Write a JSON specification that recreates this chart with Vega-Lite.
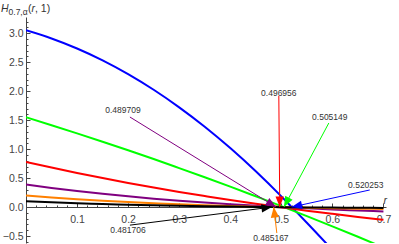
{
  "$schema": "https://vega.github.io/schema/vega-lite/v6.json",
  "width": 360,
  "height": 226,
  "autosize": "none",
  "padding": {"left": 26, "top": 17, "right": 13, "bottom": 1},
  "background": "white",
  "config": {"view": {"stroke": null}, "font": "Liberation Sans"},
  "datasets": {
    "curves": [
      {"s":"0.520253","x":0,"y":3.05},{"s":"0.520253","x":0.05,"y":2.91},{"s":"0.520253","x":0.1,"y":2.737},{"s":"0.520253","x":0.15,"y":2.532},{"s":"0.520253","x":0.2,"y":2.294},{"s":"0.520253","x":0.25,"y":2.024},{"s":"0.520253","x":0.3,"y":1.721},{"s":"0.520253","x":0.35,"y":1.386},{"s":"0.520253","x":0.4,"y":1.018},{"s":"0.520253","x":0.45,"y":0.618},{"s":"0.520253","x":0.5,"y":0.185},{"s":"0.520253","x":0.520253,"y":0},{"s":"0.520253","x":0.55,"y":-0.27},{"s":"0.520253","x":0.6,"y":-0.74},
      {"s":"0.505149","x":0,"y":1.55},{"s":"0.505149","x":0.05,"y":1.413},{"s":"0.505149","x":0.1,"y":1.272},{"s":"0.505149","x":0.15,"y":1.128},{"s":"0.505149","x":0.2,"y":0.98},{"s":"0.505149","x":0.25,"y":0.829},{"s":"0.505149","x":0.3,"y":0.673},{"s":"0.505149","x":0.35,"y":0.515},{"s":"0.505149","x":0.4,"y":0.353},{"s":"0.505149","x":0.45,"y":0.186},{"s":"0.505149","x":0.505149,"y":0},{"s":"0.505149","x":0.55,"y":-0.156},{"s":"0.505149","x":0.6,"y":-0.333},{"s":"0.505149","x":0.65,"y":-0.513},{"s":"0.505149","x":0.7,"y":-0.697},
      {"s":"0.496956","x":0,"y":0.78},{"s":"0.496956","x":0.05,"y":0.682},{"s":"0.496956","x":0.1,"y":0.589},{"s":"0.496956","x":0.15,"y":0.5},{"s":"0.496956","x":0.2,"y":0.416},{"s":"0.496956","x":0.25,"y":0.337},{"s":"0.496956","x":0.3,"y":0.261},{"s":"0.496956","x":0.35,"y":0.19},{"s":"0.496956","x":0.4,"y":0.121},{"s":"0.496956","x":0.45,"y":0.057},{"s":"0.496956","x":0.496956,"y":0},{"s":"0.496956","x":0.55,"y":-0.062},{"s":"0.496956","x":0.6,"y":-0.117},{"s":"0.496956","x":0.65,"y":-0.17},{"s":"0.496956","x":0.7,"y":-0.219},
      {"s":"0.489709","x":0,"y":0.39},{"s":"0.489709","x":0.05,"y":0.331},{"s":"0.489709","x":0.1,"y":0.277},{"s":"0.489709","x":0.15,"y":0.229},{"s":"0.489709","x":0.2,"y":0.185},{"s":"0.489709","x":0.25,"y":0.145},{"s":"0.489709","x":0.3,"y":0.11},{"s":"0.489709","x":0.35,"y":0.078},{"s":"0.489709","x":0.4,"y":0.049},{"s":"0.489709","x":0.45,"y":0.022},{"s":"0.489709","x":0.489709,"y":0},{"s":"0.489709","x":0.55,"y":-0.022},{"s":"0.489709","x":0.6,"y":-0.042},{"s":"0.489709","x":0.65,"y":-0.059},{"s":"0.489709","x":0.7,"y":-0.075},
      {"s":"0.485167","x":0,"y":0.2},{"s":"0.485167","x":0.05,"y":0.165},{"s":"0.485167","x":0.1,"y":0.135},{"s":"0.485167","x":0.15,"y":0.109},{"s":"0.485167","x":0.2,"y":0.086},{"s":"0.485167","x":0.25,"y":0.066},{"s":"0.485167","x":0.3,"y":0.048},{"s":"0.485167","x":0.35,"y":0.033},{"s":"0.485167","x":0.4,"y":0.019},{"s":"0.485167","x":0.45,"y":0.007},{"s":"0.485167","x":0.485167,"y":0},{"s":"0.485167","x":0.55,"y":-0.012},{"s":"0.485167","x":0.6,"y":-0.02},{"s":"0.485167","x":0.65,"y":-0.027},{"s":"0.485167","x":0.7,"y":-0.033},
      {"s":"0.481706","x":0,"y":0.1},{"s":"0.481706","x":0.05,"y":0.082},{"s":"0.481706","x":0.1,"y":0.066},{"s":"0.481706","x":0.15,"y":0.053},{"s":"0.481706","x":0.2,"y":0.041},{"s":"0.481706","x":0.25,"y":0.031},{"s":"0.481706","x":0.3,"y":0.022},{"s":"0.481706","x":0.35,"y":0.015},{"s":"0.481706","x":0.4,"y":0.009},{"s":"0.481706","x":0.45,"y":0.003},{"s":"0.481706","x":0.481706,"y":0},{"s":"0.481706","x":0.55,"y":-0.006},{"s":"0.481706","x":0.6,"y":-0.009},{"s":"0.481706","x":0.65,"y":-0.012},{"s":"0.481706","x":0.7,"y":-0.015}
    ],
    "arrows": [
      {"s":"0.489709","x":0.2035,"y":1.554,"tx":0.489709,"ty":0,"lx":0.1898,"ly":1.675},
      {"s":"0.496956","x":0.4951,"y":1.92,"tx":0.496956,"ty":0,"lx":0.4951,"ly":1.968},
      {"s":"0.505149","x":0.593,"y":1.45,"tx":0.505149,"ty":0,"lx":0.5949,"ly":1.554},
      {"s":"0.520253","x":0.6732,"y":0.295,"tx":0.520253,"ty":0,"lx":0.6654,"ly":0.381},
      {"s":"0.481706","x":0.2035,"y":-0.312,"tx":0.481706,"ty":0,"lx":0.1996,"ly":-0.398},
      {"s":"0.485167","x":0.4912,"y":-0.448,"tx":0.485167,"ty":0,"lx":0.4795,"ly":-0.536}
    ]
  },
  "encoding": {
    "x": {
      "field": "x", "type": "quantitative",
      "scale": {"domain": [0, 0.705], "nice": false, "zero": false},
      "axis": {
        "title": null, "orient": "bottom", "offset": -36, "grid": false,
        "values": [0.02,0.04,0.06,0.08,0.1,0.12,0.14,0.16,0.18,0.2,0.22,0.24,0.26,0.28,0.3,0.32,0.34,0.36,0.38,0.4,0.42,0.44,0.46,0.48,0.5,0.52,0.54,0.56,0.58,0.6,0.62,0.64,0.66,0.68,0.7],
        "tickSize": {"condition": {"test": "abs(datum.value*10 - round(datum.value*10)) < 0.001", "value": -4}, "value": -2},
        "labelExpr": "abs(datum.value*10 - round(datum.value*10)) < 0.001 ? format(datum.value, '.1f') : ''",
        "labelPadding": 11, "labelFont": "Liberation Sans", "labelFontSize": 10.5,
        "labelColor": "#444", "domainColor": "#444", "tickColor": "#444",
        "labelFlush": false, "labelOverlap": false, "labelBound": false
      }
    },
    "y": {
      "field": "y", "type": "quantitative",
      "scale": {"domain": [-0.62, 3.28], "nice": false, "zero": false},
      "axis": {
        "title": null, "orient": "left", "grid": false,
        "values": [-0.6,-0.5,-0.4,-0.3,-0.2,-0.1,0,0.1,0.2,0.3,0.4,0.5,0.6,0.7,0.8,0.9,1,1.1,1.2,1.3,1.4,1.5,1.6,1.7,1.8,1.9,2,2.1,2.2,2.3,2.4,2.5,2.6,2.7,2.8,2.9,3,3.1,3.2],
        "tickSize": {"condition": {"test": "abs(datum.value*2 - round(datum.value*2)) < 0.001", "value": -4}, "value": -2},
        "labelExpr": "abs(datum.value*2 - round(datum.value*2)) < 0.001 ? format(datum.value, '.1f') : ''",
        "labelPadding": 7, "labelFont": "Liberation Sans", "labelFontSize": 10.5,
        "labelColor": "#444", "domainColor": "#444", "tickColor": "#444",
        "labelFlush": false, "labelOverlap": false, "labelBound": false
      }
    }
  },
  "layer": [
    {
      "data": {"name": "curves"},
      "mark": {"type": "line", "clip": true, "strokeWidth": 2, "interpolate": "monotone"},
      "encoding": {
        "color": {"field": "s", "type": "nominal", "legend": null,
          "scale": {"domain": ["0.520253","0.505149","0.496956","0.489709","0.485167","0.481706"], "range": ["#0000FF","#00FF00","#FF0000","#800080","#FF8000","#000000"]}}
      }
    },
    {
      "data": {"name": "arrows"},
      "mark": {"type": "rule", "strokeWidth": 1},
      "encoding": {
        "x2": {"field": "tx"},
        "y2": {"field": "ty"},
        "color": {"field": "s", "type": "nominal", "legend": null}
      }
    },
    {
      "data": {"name": "arrows"},
      "transform": [{"calculate": "atan2((datum.tx - datum.x) * 511, (datum.ty - datum.y) * 57.95) * 180 / PI", "as": "angle"}],
      "mark": {"type": "point", "filled": true, "opacity": 1, "shape": "M0,0L-0.8,2L0.8,2Z", "size": 110, "strokeWidth": 0},
      "encoding": {
        "x": {"field": "tx", "type": "quantitative"},
        "y": {"field": "ty", "type": "quantitative"},
        "angle": {"field": "angle", "type": "quantitative", "scale": null},
        "color": {"field": "s", "type": "nominal", "legend": null}
      }
    },
    {
      "data": {"name": "arrows"},
      "mark": {"type": "text", "font": "Liberation Sans", "fontSize": 8.5, "color": "#333", "baseline": "middle", "align": "center"},
      "encoding": {
        "x": {"field": "lx", "type": "quantitative"},
        "y": {"field": "ly", "type": "quantitative"},
        "text": {"field": "s"}
      }
    },
    {
      "data": {"values": [{"x": -0.0489, "y": 3.366, "t": "H"}]},
      "mark": {"type": "text", "font": "Liberation Sans", "fontSize": 10.5, "fontStyle": "italic", "color": "#333", "align": "left", "baseline": "alphabetic"},
      "encoding": {"text": {"field": "t"}}
    },
    {
      "data": {"values": [{"x": -0.0342, "y": 3.314, "t": "0.7,α"}]},
      "mark": {"type": "text", "font": "Liberation Sans", "fontSize": 8.5, "color": "#333", "align": "left", "baseline": "alphabetic"},
      "encoding": {"text": {"field": "t"}}
    },
    {
      "data": {"values": [{"x": 0.0039, "y": 3.366, "t": "("}, {"x": 0.0176, "y": 3.366, "t": ", 1)"}]},
      "mark": {"type": "text", "font": "Liberation Sans", "fontSize": 10.5, "color": "#333", "align": "left", "baseline": "alphabetic"},
      "encoding": {"text": {"field": "t"}}
    },
    {
      "data": {"values": [{"x": 0.0108, "y": 3.366, "t": "r"}, {"x": 0.7, "y": 0.05, "t": "r"}]},
      "mark": {"type": "text", "font": "Liberation Sans", "fontSize": 10.5, "fontStyle": "italic", "color": "#333", "align": "left", "baseline": "alphabetic"},
      "encoding": {"text": {"field": "t"}}
    }
  ]
}
